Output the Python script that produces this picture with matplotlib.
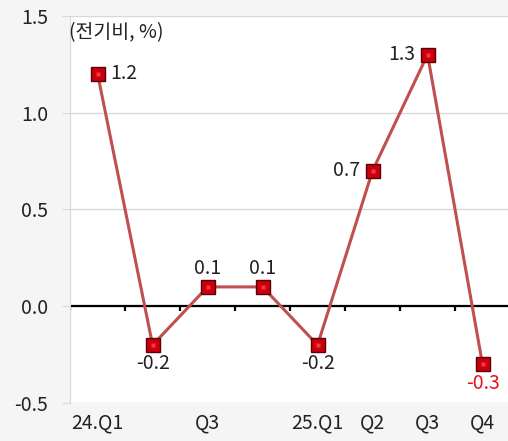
import matplotlib.pyplot as plt
import numpy as np

plt.rcParams['font.family'] = ['Noto Sans CJK KR', 'DejaVu Sans']

quarters = ['24.Q1', '', 'Q3', '', '25.Q1', 'Q2', 'Q3', 'Q4']
values = [1.2, -0.2, 0.1, 0.1, -0.2, 0.7, 1.3, -0.3]
# where each value label sits relative to its marker
label_pos = ['right', 'below', 'above', 'above', 'below', 'left', 'left', 'below']
yticks = [-0.5, 0.0, 0.5, 1.0, 1.5]

fs = 14
fig = plt.figure(figsize=(5.08, 4.41), dpi=100, facecolor='#f5f5f5')
ax = fig.add_axes([0.138, 0.086, 0.866, 0.878])
ax.set_facecolor('white')

x = np.arange(len(values))
ax.plot(x, values, color='#c0504d', lw=2.2, zorder=3)
ax.plot(x, values, ls='none', marker='s', ms=9.5, mfc='#c8000c',
        mec='#5a0008', mew=1.0, zorder=4)
ax.plot(x, values, ls='none', marker='s', ms=3, mfc='#ff3040',
        mec='none', zorder=5)

for xi, v, pos in zip(x, values, label_pos):
    color = '#e8101e' if v == values[-1] else '#222222'
    txt = f'{v:.1f}'
    if pos == 'right':
        ax.annotate(txt, (xi, v), xytext=(9, 0), textcoords='offset points',
                    ha='left', va='center', fontsize=fs, color=color)
    elif pos == 'left':
        ax.annotate(txt, (xi, v), xytext=(-9, 0), textcoords='offset points',
                    ha='right', va='center', fontsize=fs, color=color)
    elif pos == 'above':
        ax.annotate(txt, (xi, v), xytext=(0, 6), textcoords='offset points',
                    ha='center', va='bottom', fontsize=fs, color=color)
    else:
        ax.annotate(txt, (xi, v), xytext=(0, -6), textcoords='offset points',
                    ha='center', va='top', fontsize=fs, color=color)

ax.set_xlim(-0.5, len(values) - 0.5)
ax.set_ylim(-0.5, 1.5)
ax.set_yticks(yticks)
ax.set_yticklabels([f'{t:.1f}' for t in yticks], fontsize=fs, color='#222222')
ax.yaxis.grid(True, color='#d9d9d9', lw=1)
ax.tick_params(axis='y', length=6, color='#d9d9d9', pad=10)

ax.set_xticks(x)
ax.set_xticklabels(quarters, fontsize=fs, color='#222222')
ax.tick_params(axis='x', length=0, pad=7)

# zero line with category separators hanging below it
ax.axhline(0, color='black', lw=1.6, zorder=2)
ax.vlines(np.arange(len(values) + 1) - 0.5, -0.025, 0, color='black', lw=1.6,
          zorder=2)

for side in ['top', 'right', 'bottom']:
    ax.spines[side].set_visible(False)
ax.spines['left'].set_color('#d9d9d9')

ax.text(-0.52, 1.5 - 0.03, '(전기비, %)', fontsize=fs, color='#222222',
        ha='left', va='top', transform=ax.transData)

fig.savefig('out.png', dpi=100, facecolor=fig.get_facecolor())
